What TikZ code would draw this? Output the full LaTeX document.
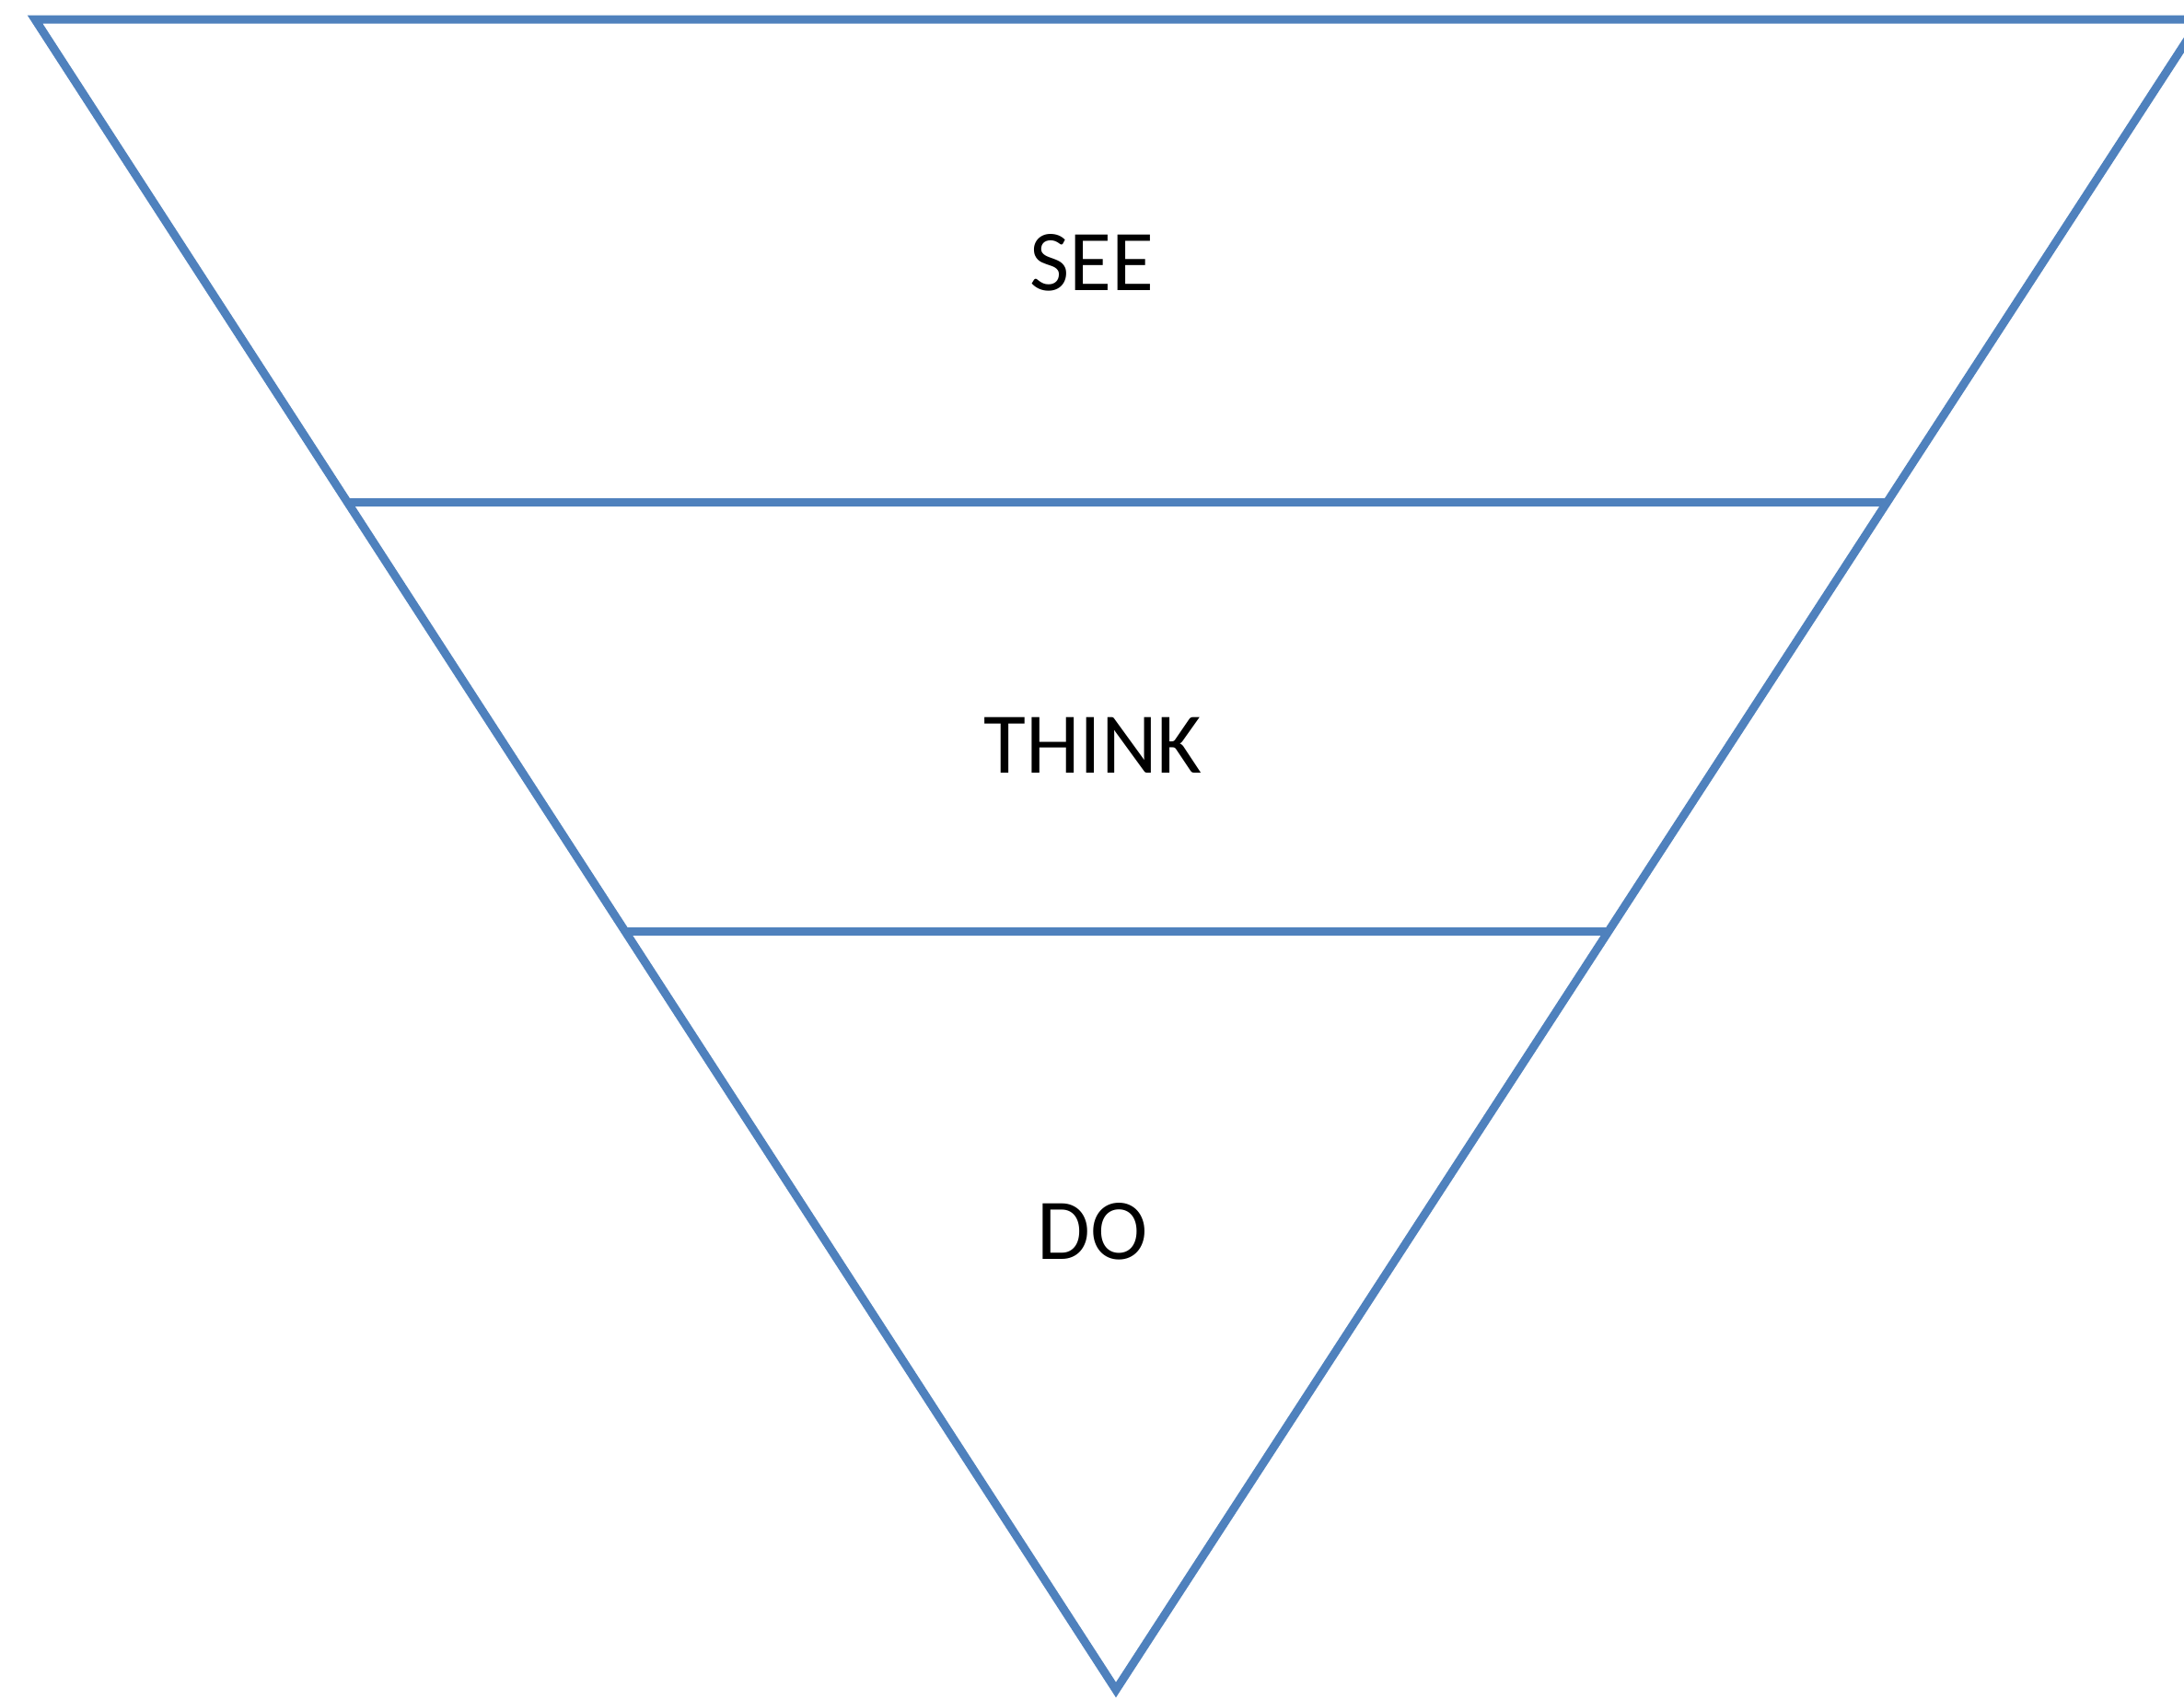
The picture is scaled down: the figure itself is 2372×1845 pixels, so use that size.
\documentclass[tikz,border=0pt]{standalone}
\usepackage{fontspec}
\setmainfont{Carlito}
\usetikzlibrary{calc}
\definecolor{funnelblue}{HTML}{4F81BD}
\tikzset{
  funnelline/.style={draw=funnelblue, line width=9pt, line join=miter},
  label/.style={anchor=base, inner sep=0pt, font=\fontsize{94}{110}\selectfont}
}
\begin{document}
\begin{tikzpicture}[x=1pt,y=-1pt]
\fill[white] (0,0) rectangle (2372,1845);
\useasboundingbox (0,0) rectangle (2372,1845);
\clip (0,0) rectangle (2372,1845);
\coordinate (TL) at (38,21);
\coordinate (TR) at (2390,21);
\coordinate (B) at (1212,1835);
\coordinate (L1) at ($(TL)!0.2889!(B)$);
\coordinate (R1) at ($(TR)!0.2889!(B)$);
\coordinate (L2) at ($(TL)!0.5463!(B)$);
\coordinate (R2) at ($(TR)!0.5463!(B)$);
\draw[funnelline] (TL) -- (TR) -- (B) -- cycle;
\draw[funnelline] (L1) -- (R1);
\draw[funnelline] (L2) -- (R2);
\node[label] (see) at (1186,315) {SEE};
\node[label] (think) at (1187,839) {THINK};
\node[label] (do) at (1187,1367) {DO};
\end{tikzpicture}
\end{document}
